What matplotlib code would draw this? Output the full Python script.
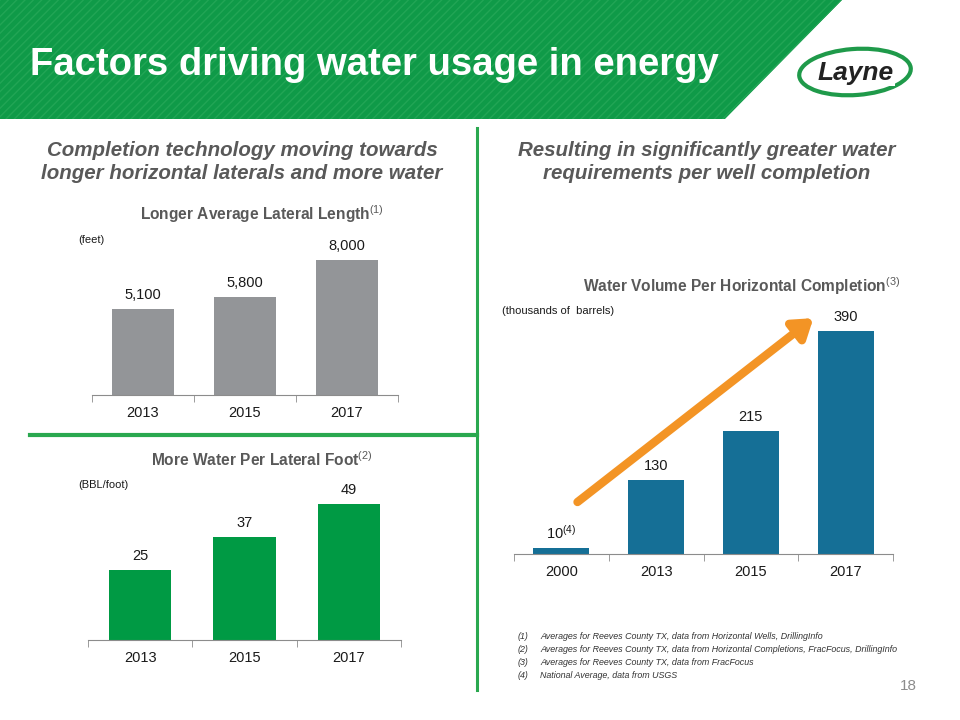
import matplotlib
matplotlib.use("Agg")
import matplotlib.pyplot as plt
from matplotlib.patches import Polygon, Ellipse

# Data -----------------------------------------------------------------

lat_years = ["2013", "2015", "2017"]
lat_length = [5100, 5800, 8000]

foot_years = ["2013", "2015", "2017"]
water_per_foot = [25, 37, 49]

vol_years = ["2000", "2013", "2015", "2017"]
water_volume = [10, 130, 215, 390]

footnotes = [
    "Averages for Reeves County TX, data from Horizontal Wells, DrillingInfo",
    "Averages for Reeves County TX, data from Horizontal Completions, FracFocus, DrillingInfo",
    "Averages for Reeves County TX, data from FracFocus",
    "National Average, data from USGS",
]

# Style ----------------------------------------------------------------

plt.rcParams["font.family"] = ["Liberation Sans", "DejaVu Sans"]
plt.rcParams["mathtext.fontset"] = "custom"
plt.rcParams["mathtext.rm"] = "Liberation Sans"
plt.rcParams["mathtext.it"] = "Liberation Sans:italic"

GREEN = "#0f9a48"
GRAY_TXT = "#595959"
TXT = "#1a1a1a"

W, H = 960, 720
fig = plt.figure(figsize=(9.6, 7.2), dpi=100)


def fx(x):
    return x / W


def fy(y):
    return 1 - y / H


def add_axes_px(left, right, top, bottom):
    return fig.add_axes([fx(left), fy(bottom), (right - left) / W, (bottom - top) / H])


# Header band
band = Polygon([(0, 1), (fx(842), 1), (fx(725), fy(119)), (0, fy(119))],
               closed=True, transform=fig.transFigure, facecolor=GREEN,
               edgecolor="#22a555", hatch="////", linewidth=0)
fig.patches.append(band)
fig.text(fx(30), fy(65), "Factors driving water usage in energy", color="white",
         fontsize=27.5, fontweight="bold", va="center", ha="left")

# Logo
ring = Ellipse((fx(855), fy(72)), 112 / W, 46 / H, transform=fig.transFigure,
               facecolor="none", edgecolor="#1f9a4a", linewidth=3, angle=6)
fig.patches.append(ring)
fig.text(fx(856), fy(73), "Layne", fontsize=19, fontweight="bold", style="italic",
         color="#222222", ha="center", va="center",
         bbox=dict(facecolor="white", edgecolor="none", pad=0.5))

# Dividers
fig.add_artist(plt.Line2D([fx(477), fx(477)], [fy(128), fy(690)],
                          color="#2aa84f", linewidth=2.2))
fig.add_artist(plt.Line2D([fx(30), fx(477)], [fy(435), fy(435)],
                          color="#2aa84f", linewidth=3))

# Section headings
fig.text(fx(242), fy(162), "Completion technology moving towards\nlonger horizontal laterals and more water",
         ha="center", va="center", fontsize=14.8, fontweight="bold", style="italic",
         color=GRAY_TXT, linespacing=1.3)
fig.text(fx(707), fy(162), "Resulting in significantly greater water\nrequirements per well completion",
         ha="center", va="center", fontsize=14.8, fontweight="bold", style="italic",
         color=GRAY_TXT, linespacing=1.3)


def bar_chart(ax, cats, vals, color, ylim, width):
    x = list(range(len(cats)))
    bars = ax.bar(x, vals, width=width, color=color)
    ax.set_xlim(-0.5, len(cats) - 0.5)
    ax.set_ylim(0, ylim)
    for s in ["top", "right", "left"]:
        ax.spines[s].set_visible(False)
    ax.spines["bottom"].set_color("#8c8c8c")
    ax.set_yticks([])
    ax.set_xticks(x)
    ax.set_xticklabels(cats, fontsize=10.5, color=TXT)
    ax.set_xticks([i - 0.5 for i in range(len(cats) + 1)], minor=True)
    ax.tick_params(axis="x", which="major", length=0, pad=8)
    ax.tick_params(axis="x", which="minor", length=5, color="#8c8c8c")
    ax.patch.set_alpha(0)
    return bars


# Chart 1 - lateral length
ax1 = add_axes_px(92, 398, 226, 395)
b1 = bar_chart(ax1, lat_years, lat_length, "#939598", 10000, 0.6)
ax1.bar_label(b1, labels=[f"{v:,}" for v in lat_length], padding=5, fontsize=10.5, color=TXT)
fig.text(fx(262), fy(214), r"Longer Average Lateral Length$^{(1)}$", ha="center", va="center",
         fontsize=11.2, fontweight="bold", color=GRAY_TXT)
fig.text(fx(78), fy(240), "(feet)", ha="left", va="center", fontsize=8, color=TXT)

# Chart 2 - water per foot
ax2 = add_axes_px(88, 401, 473, 640)
b2 = bar_chart(ax2, foot_years, water_per_foot, "#009a44", 60, 0.6)
ax2.bar_label(b2, labels=[str(v) for v in water_per_foot], padding=5, fontsize=10.5, color=TXT)
fig.text(fx(262), fy(460), r"More Water Per Lateral Foot$^{(2)}$", ha="center", va="center",
         fontsize=11.2, fontweight="bold", color=GRAY_TXT)
fig.text(fx(78), fy(485), "(BBL/foot)", ha="left", va="center", fontsize=8, color=TXT)

# Chart 3 - water volume
ax3 = add_axes_px(514, 893, 297, 554)
b3 = bar_chart(ax3, vol_years, water_volume, "#156f96", 450, 0.59)
labels3 = [r"10$^{\mathit{(4)}}$"] + [str(v) for v in water_volume[1:]]
ax3.bar_label(b3, labels=labels3, padding=5, fontsize=10.5, color=TXT)
fig.text(fx(742), fy(286), r"Water Volume Per Horizontal Completion$^{(3)}$", ha="center", va="center",
         fontsize=11.2, fontweight="bold", color=GRAY_TXT)
fig.text(fx(502), fy(311), "(thousands of  barrels)", ha="left", va="center", fontsize=8, color=TXT)

ax3.annotate("", xy=(2.66, 413), xytext=(0.17, 91), xycoords="data",
             arrowprops=dict(arrowstyle="-|>,head_length=1.1,head_width=0.75",
                             color="#f39425", linewidth=6, shrinkA=0, shrinkB=0),
             annotation_clip=False)

# Footnotes
for i, note in enumerate(footnotes):
    y = 639 + i * 13
    fig.text(fx(518), fy(y), f"({i + 1})", ha="left", va="baseline", fontsize=6.4,
             style="italic", color="#333333")
    fig.text(fx(540), fy(y), note, ha="left", va="baseline", fontsize=6.4,
             style="italic", color="#333333")

fig.text(fx(917), fy(686), "18", ha="right", va="center", fontsize=11, color="#8c8c8c")

fig.savefig("out.png", dpi=100)
